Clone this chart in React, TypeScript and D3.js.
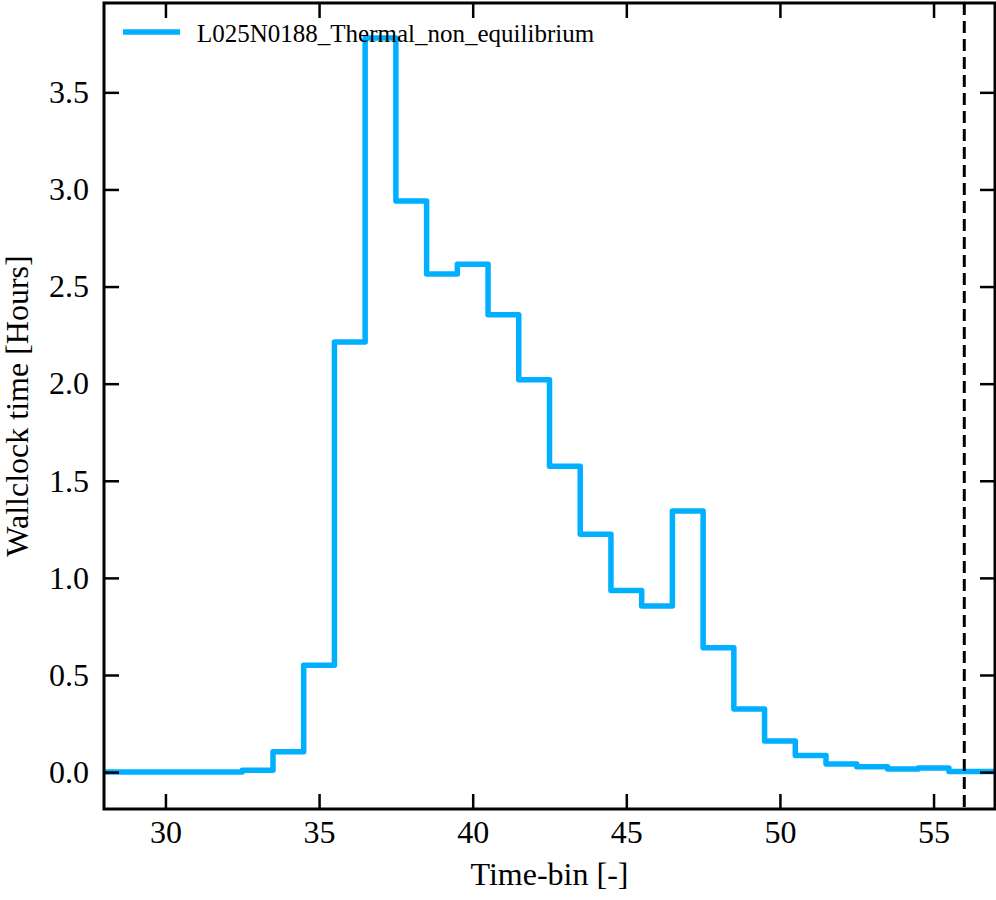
import React, { useRef, useEffect } from 'react';
import * as d3 from 'd3';

// Time-bin index (bin centres) and wallclock time per bin, in hours
const timeBins: number[] = [28, 29, 30, 31, 32, 33, 34, 35, 36, 37, 38, 39, 40, 41, 42, 43, 44, 45, 46, 47, 48, 49, 50, 51, 52, 53, 54, 55, 56, 57];
const wallclockHours: number[] = [0, 0, 0, 0, 0, 0.01, 0.105, 0.55, 2.215, 3.78, 2.94, 2.565, 2.615, 2.355, 2.02, 1.575, 1.225, 0.935, 0.855, 1.345, 0.64, 0.325, 0.16, 0.085, 0.042, 0.027, 0.016, 0.021, 0.003, 0.003];

const xTicks: number[] = [30, 35, 40, 45, 50, 55];
const yTicks: number[] = [0, 0.5, 1.0, 1.5, 2.0, 2.5, 3.0, 3.5];
const seriesName = 'L025N0188_Thermal_non_equilibrium';
const markerBin = 56;

const WIDTH = 996;
const HEIGHT = 900;
const FONT = 'Liberation Serif';
const LINE_COLOR = '#00B0FF';

const App: React.FC = () => {
  const svgRef = useRef<SVGSVGElement>(null);

  useEffect(() => {
    if (!svgRef.current) return;
    const svg = d3.select(svgRef.current);
    svg.selectAll('*').remove();

    // plot box in pixels
    const left = 104, right = 995, top = 3, bottom = 809;

    const x = d3.scaleLinear().domain([28, 57]).range([left, right]);
    const y = d3.scaleLinear().domain([-0.19, 3.96]).range([bottom, top]);

    const data = timeBins.map((b, i) => ({ bin: b, value: wallclockHours[i] }));

    svg.append('clipPath').attr('id', 'plot-clip')
      .append('rect')
      .attr('x', left).attr('y', top)
      .attr('width', right - left).attr('height', bottom - top);

    // histogram-style step line (steps halfway between bin centres)
    const line = d3.line<{ bin: number; value: number }>()
      .x(d => x(d.bin))
      .y(d => y(d.value))
      .curve(d3.curveStep);

    svg.append('path')
      .datum(data)
      .attr('clip-path', 'url(#plot-clip)')
      .attr('fill', 'none')
      .attr('stroke', LINE_COLOR)
      .attr('stroke-width', 5.5)
      .attr('stroke-linejoin', 'round')
      .attr('d', line);

    // dashed vertical marker
    svg.append('line')
      .attr('x1', x(markerBin)).attr('x2', x(markerBin))
      .attr('y1', top).attr('y2', bottom)
      .attr('stroke', '#000')
      .attr('stroke-width', 3)
      .attr('stroke-dasharray', '12,6');

    // ticks on all four sides, pointing inwards
    const tickStyle = (g: d3.Selection<SVGGElement, unknown, null, undefined>) => {
      g.attr('font-family', null).attr('font-size', null);
      g.select('.domain').remove();
      g.selectAll('line').attr('stroke', '#000').attr('stroke-width', 2.5);
      g.selectAll('text').attr('fill', '#000');
    };

    svg.append('g')
      .attr('transform', `translate(0,${bottom})`)
      .call(d3.axisBottom(x).tickValues(xTicks).tickSize(-15).tickPadding(11).tickFormat(d3.format('d')))
      .call(tickStyle);

    svg.append('g')
      .attr('transform', `translate(0,${top})`)
      .call(d3.axisTop(x).tickValues(xTicks).tickSize(-15).tickFormat(() => ''))
      .call(tickStyle);

    svg.append('g')
      .attr('transform', `translate(${left},0)`)
      .call(d3.axisLeft(y).tickValues(yTicks).tickSize(-15).tickPadding(15).tickFormat(d3.format('.1f')))
      .call(tickStyle);

    svg.append('g')
      .attr('transform', `translate(${right},0)`)
      .call(d3.axisRight(y).tickValues(yTicks).tickSize(-15).tickFormat(() => ''))
      .call(tickStyle);

    // frame
    svg.append('rect')
      .attr('x', left).attr('y', top)
      .attr('width', right - left).attr('height', bottom - top)
      .attr('fill', 'none')
      .attr('stroke', '#000')
      .attr('stroke-width', 3);

    // axis labels
    svg.append('text')
      .attr('x', (left + right) / 2)
      .attr('y', 885)
      .attr('text-anchor', 'middle')
      .text('Time-bin [-]');

    svg.append('text')
      .attr('transform', `translate(28,${(top + bottom) / 2}) rotate(-90)`)
      .attr('text-anchor', 'middle')
      .text('Wallclock time [Hours]');

    // legend
    svg.append('line')
      .attr('x1', 123).attr('x2', 180)
      .attr('y1', 32).attr('y2', 32)
      .attr('stroke', LINE_COLOR)
      .attr('stroke-width', 5.5);

    svg.append('text')
      .attr('x', 197)
      .attr('y', 42)
      .style('font-size', '25px')
      .text(seriesName);
  }, []);

  return (
    <svg
      ref={svgRef}
      width={WIDTH}
      height={HEIGHT}
      style={{ position: 'absolute', left: 0, top: 0, background: '#fff', fontFamily: FONT, fontSize: 32 }}
    />
  );
};

export default App;
